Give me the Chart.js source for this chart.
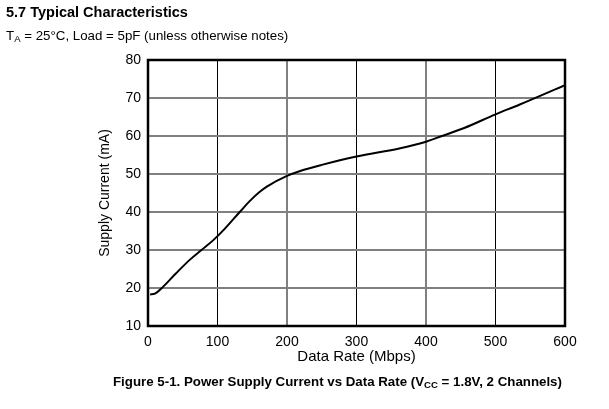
<!DOCTYPE html>
<html>
<head>
<meta charset="utf-8">
<script src="https://cdn.jsdelivr.net/npm/chart.js@4.4.1/dist/chart.umd.min.js"></script>
<style>
  html, body { margin: 0; padding: 0; background: #fff; }
  body { width: 609px; height: 409px; position: relative; overflow: hidden; font-family: "Liberation Sans", Arial, sans-serif; color: #000; }
  #c { position: absolute; left: 0; top: 0; }
  .t { position: absolute; white-space: nowrap; line-height: 1; }
  sub { font-size: 0.72em; vertical-align: -0.25em; line-height: 0; }
</style>
</head>
<body>
<canvas id="c" width="609" height="409"></canvas>
<div class="t" style="left:6px; top:5px; font-size:14.5px; font-weight:bold;">5.7 Typical Characteristics</div>
<div class="t" style="left:6px; top:28.7px; font-size:13.3px;">T<sub>A</sub> = 25°C, Load = 5pF (unless otherwise notes)</div>
<div class="t" style="left:113px; top:374.7px; font-size:13.3px; font-weight:bold;">Figure 5-1. Power Supply Current vs Data Rate (V<sub>CC</sub> = 1.8V, 2 Channels)</div>
<script>
// Data
const dataRate = [3, 10, 20, 40, 60, 77, 94, 110, 132, 147, 160, 171, 200, 219, 250, 300, 363, 400, 423, 455, 500, 535, 600];
const supplyCurrent = [18.3, 18.5, 20.0, 23.8, 27.4, 30.0, 32.6, 35.5, 40.0, 43.0, 45.2, 46.7, 49.5, 50.8, 52.4, 54.6, 56.8, 58.5, 60.0, 62.1, 65.7, 68.3, 73.4];
const xTicks = [0, 100, 200, 300, 400, 500, 600];
const yTicks = [10, 20, 30, 40, 50, 60, 70, 80];

const points = dataRate.map((x, i) => ({ x: x, y: supplyCurrent[i] }));
const FONT = "'Liberation Sans', Arial, sans-serif";

const framePlugin = {
  id: 'frame',
  afterDatasetsDraw(chart) {
    const a = chart.chartArea;
    const ctx = chart.ctx;
    ctx.save();
    ctx.strokeStyle = '#000';
    ctx.lineWidth = 2.5;
    ctx.strokeRect(a.left, a.top, a.right - a.left, a.bottom - a.top);
    ctx.restore();
  }
};

new Chart(document.getElementById('c'), {
  type: 'line',
  data: {
    datasets: [{
      data: points,
      borderColor: '#000',
      borderWidth: 2,
      pointRadius: 0,
      fill: false,
      cubicInterpolationMode: 'monotone'
    }]
  },
  options: {
    responsive: false,
    animation: false,
    devicePixelRatio: 1,
    layout: { padding: { left: 93, right: 44, top: 60, bottom: 39 } },
    plugins: { legend: { display: false }, tooltip: { enabled: false }, title: { display: false } },
    scales: {
      x: {
        type: 'linear',
        min: xTicks[0],
        max: xTicks[xTicks.length - 1],
        afterBuildTicks(axis) { axis.ticks = xTicks.map(v => ({ value: v })); },
        afterFit(axis) { axis.height = 44; },
        border: { display: false },
        grid: {
          drawTicks: false,
          color(ctx) {
            const v = ctx.tick && ctx.tick.value;
            if (v === 0 || v === 600) return 'rgba(0,0,0,0)';
            return (v % 200 === 0) ? '#808080' : '#000';
          },
          lineWidth(ctx) {
            const v = ctx.tick && ctx.tick.value;
            return (v % 200 === 0) ? 2 : 1;
          }
        },
        ticks: { color: '#000', padding: 8, font: { family: FONT, size: 14 }, maxRotation: 0 },
        title: { display: true, text: 'Data Rate (Mbps)', color: '#000', font: { family: FONT, size: 15 }, padding: { top: 0, bottom: 4 } }
      },
      y: {
        type: 'linear',
        min: yTicks[0],
        max: yTicks[yTicks.length - 1],
        afterBuildTicks(axis) { axis.ticks = yTicks.map(v => ({ value: v })); },
        afterFit(axis) { axis.width = 55; },
        border: { display: false },
        grid: {
          drawTicks: false,
          color(ctx) {
            const v = ctx.tick && ctx.tick.value;
            if (v === 10 || v === 80) return 'rgba(0,0,0,0)';
            return '#808080';
          },
          lineWidth: 2
        },
        ticks: { color: '#000', padding: 7, font: { family: FONT, size: 14 } },
        title: { display: true, text: 'Supply Current (mA)', color: '#000', font: { family: FONT, size: 14 }, padding: { top: 4, bottom: 0 } }
      }
    }
  },
  plugins: [framePlugin]
});
</script>
</body>
</html>
